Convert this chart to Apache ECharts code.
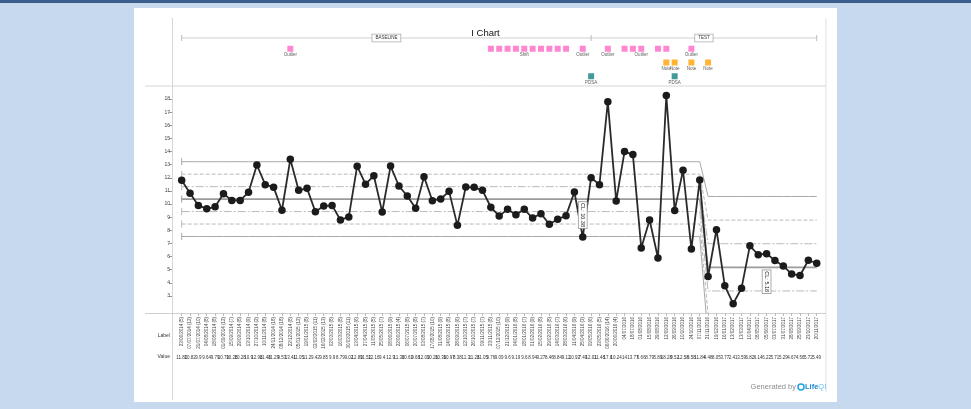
<!DOCTYPE html>
<html><head><meta charset="utf-8">
<script src="https://cdn.jsdelivr.net/npm/echarts@6/dist/echarts.min.js"></script>
<style>html,body{margin:0;padding:0;background:#c7d9ef;}#c{width:971px;height:409px;}</style>
</head><body><div id="c"></div>
<script>
const dateLabels = [
'23/06/2014 (5)','07/07/2014 (12)','21/07/2014 (10)','04/08/2014 (8)','18/08/2014 (8)','01/09/2014 (12)','15/09/2014 (7)','29/09/2014 (8)','13/10/2014 (9)','27/10/2014 (2)',
'10/11/2014 (8)','24/11/2014 (18)','08/12/2014 (18)','22/12/2014 (8)','05/01/2015 (12)','19/01/2015 (8)','02/02/2015 (11)','16/02/2015 (13)','02/03/2015 (8)','16/03/2015 (8)',
'30/03/2015 (11)','13/04/2015 (6)','27/04/2015 (8)','11/05/2015 (5)','25/05/2015 (7)','08/06/2015 (9)','22/06/2015 (4)','06/07/2015 (8)','20/07/2015 (8)','03/08/2015 (7)',
'17/08/2015 (10)','31/08/2015 (9)','14/09/2015 (8)','28/09/2015 (6)','12/10/2015 (7)','26/10/2015 (7)','09/11/2015 (7)','23/11/2015 (8)','07/12/2015 (10)','21/12/2015 (9)',
'04/01/2016 (8)','18/01/2016 (7)','01/02/2016 (9)','15/02/2016 (8)','29/02/2016 (8)','14/03/2016 (7)','28/03/2016 (6)','11/04/2016 (9)','25/04/2016 (3)','09/05/2016 (6)',
'23/05/2016 (5)','06/06/2016 (14)','20/06/2016 (4)','04/07/2016','18/07/2016','01/08/2016','15/08/2016','29/08/2016','12/09/2016','26/09/2016',
'10/10/2016','24/10/2016','07/11/2016','21/11/2016','19/12/2016','16/01/2017','13/02/2017','13/03/2017','10/04/2017','08/05/2017',
'05/06/2017','03/07/2017','31/07/2017','28/08/2017','25/09/2017','23/10/2017','20/11/2017'
];
const values = [
11.82,10.82,9.9,9.64,9.79,10.79,10.28,10.28,10.9,12.98,
11.48,11.29,9.53,13.41,11.05,11.2,9.42,9.85,9.9,8.79,
9.02,12.89,11.52,12.16,9.4,12.9,11.38,10.62,9.68,12.09,
10.26,10.39,10.97,8.38,11.3,11.28,11.05,9.76,9.09,9.6,
9.19,9.6,8.94,9.27,8.46,8.84,9.12,10.92,7.49,12.01,
11.48,17.8,10.24,14.0,13.77,6.66,8.79,5.89,18.28,9.52,
12.58,6.58,11.84,4.48,8.05,3.77,2.41,3.59,6.82,6.14,
6.22,5.71,5.29,4.67,4.56,5.72,5.49
];
const baselineLimits = {ucl:13.23, plus2:12.28, plus1:11.33, cl:10.38, minus1:9.43, minus2:8.48, lcl:7.53};
const testLimits = {ucl:10.58, plus2:8.78, plus1:6.98, cl:5.18, minus1:3.38, minus2:1.58, lcl:-0.22};
const recalcPoint = 64;            // first point (1-based) using the test limits
const phaseNames = ['BASELINE','TEST'];
const phaseStartPoints = [1, 50];  // 1-based
const yTicks = [3,4,5,6,7,8,9,10,11,12,13,14,15,16,17,18];
const outlierPoints = [14,49,52,54,55,56,58,59,62];
const outlierLabelPoints = [14,49,52,56,62];
const shiftPoints = [38,39,40,41,42,43,44,45,46,47];
const shiftLabelPoint = 42;
const notePoints = [59,60,62,64];
const pdsaPoints = [50,60];
const clLabelPoints = {baseline:49, test:71};

const FONT = 'Liberation Sans, Arial, sans-serif';
const chart = echarts.init(document.getElementById('c'));

const limitKeys = ['ucl','plus2','plus1','cl','minus1','minus2','lcl'];
const limitStyles = {
  ucl:{type:'solid', color:'#a9a9a9', width:1},
  plus2:{type:[4,2], color:'#b9b9b9', width:1},
  plus1:{type:[8,2,2,2], color:'#b9b9b9', width:1},
  cl:{type:'solid', color:'#9c9c9c', width:1.6},
  minus1:{type:[8,2,2,2], color:'#b9b9b9', width:1},
  minus2:{type:[4,2], color:'#b9b9b9', width:1},
  lcl:{type:'solid', color:'#a9a9a9', width:1}
};
const limitSeries = limitKeys.map(k => ({
  type:'line', xAxisIndex:0, yAxisIndex:0, silent:true, symbol:'none', showSymbol:true, showAllSymbol:true,
  lineStyle:limitStyles[k], z:1,
  data: values.map((v,i) => {
    const val = (i+1 < recalcPoint) ? baselineLimits[k] : testLimits[k];
    return i === 0 ? {value:val, symbol:'rect', symbolSize:[1,7], itemStyle:{color:limitStyles[k].color}} : {value:val};
  })
}));

const lbl = (txt) => ({show:true, formatter:txt, position:'bottom', distance:1, fontSize:4.5, color:'#333', fontFamily:FONT});
const pinkIdx = Array.from(new Set(outlierPoints.concat(shiftPoints))).sort((a,b)=>a-b);
const pinkData = pinkIdx.map(p => {
  const item = {value:[p-1, 3]};
  if (outlierLabelPoints.includes(p)) item.label = lbl('Outlier');
  if (p === shiftLabelPoint) item.label = lbl('Shift');
  return item;
});
const noteData = notePoints.map(p => ({value:[p-1, 2], label:lbl('Note')}));
const pdsaData = pdsaPoints.map(p => ({value:[p-1, 1], label:lbl('PDSA')}));

const option = {
  animation:false,
  backgroundColor:'#c7d9ef',
  textStyle:{fontFamily:FONT},
  title:{text:'I Chart', left:'center', top:23, textStyle:{fontSize:9.5, fontWeight:'normal', color:'#111', fontFamily:FONT}},
  grid:[
    {left:177.5, top:86, width:643.4, height:227},
    {left:177.5, top:35, width:643.4, height:55}
  ],
  xAxis:[
    {type:'category', gridIndex:0, data:dateLabels, boundaryGap:true,
     axisLine:{show:false}, axisTick:{show:true, alignWithLabel:true, length:3, lineStyle:{color:'#bbb'}, interval:0},
     axisLabel:{rotate:90, interval:0, fontSize:4.5, margin:4, color:'#444', fontFamily:FONT}, splitLine:{show:false}},
    {type:'category', gridIndex:0, data:dateLabels, boundaryGap:true, position:'bottom', offset:40,
     axisLine:{show:false}, axisTick:{show:false},
     axisLabel:{interval:0, fontSize:4.5, margin:2, color:'#333', fontFamily:FONT, formatter:(v,i)=>String(values[i])}},
    {type:'category', gridIndex:1, data:dateLabels, boundaryGap:true, show:false}
  ],
  yAxis:[
    {type:'value', gridIndex:0, min:1.7, max:19, offset:5.5,
     axisLine:{show:false}, splitLine:{show:false},
     axisTick:{show:true, length:3, customValues:yTicks, lineStyle:{color:'#999'}},
     axisLabel:{customValues:yTicks, fontSize:5, margin:2, color:'#444', fontFamily:FONT}},
    {type:'value', gridIndex:1, min:0, max:4, show:false}
  ],
  series: limitSeries.concat([
    {type:'line', xAxisIndex:0, yAxisIndex:0, data:values, symbol:'circle', symbolSize:7.5, showAllSymbol:true,
     itemStyle:{color:'#1b1b1b'}, lineStyle:{color:'#2a2a2a', width:1.8}, z:5},
    {type:'scatter', xAxisIndex:2, yAxisIndex:1, symbol:'rect', symbolSize:6, itemStyle:{color:'#ff69c6'}, data:pinkData},
    {type:'scatter', xAxisIndex:2, yAxisIndex:1, symbol:'rect', symbolSize:6, itemStyle:{color:'#ffa200'}, data:noteData},
    {type:'scatter', xAxisIndex:2, yAxisIndex:1, symbol:'rect', symbolSize:6, itemStyle:{color:'#178080'}, data:pdsaData}
  ]),
  graphic:{elements:[
    {id:'topband', type:'rect', z:-100, shape:{x:0,y:0,width:971,height:3}, style:{fill:'#3b5f8c'}},
    {id:'panel', type:'rect', z:-100, shape:{x:134,y:8,width:703,height:394}, style:{fill:'#ffffff'}},
    {id:'vleft', type:'line', z:-50, shape:{x1:172.5,y1:18,x2:172.5,y2:400}, style:{stroke:'#d6d6d6', lineWidth:1}},
    {id:'vright', type:'line', z:-50, shape:{x1:826,y1:18,x2:826,y2:392}, style:{stroke:'#e2e2e2', lineWidth:1}},
    {id:'htop', type:'line', z:-50, shape:{x1:145,y1:86,x2:826,y2:86}, style:{stroke:'#d6d6d6', lineWidth:1}},
    {id:'hbot', type:'line', z:-50, shape:{x1:145,y1:313.5,x2:826,y2:313.5}, style:{stroke:'#cfcfcf', lineWidth:1}},
    {id:'lblLabel', type:'text', x:170, y:336, style:{text:'Label', align:'right', verticalAlign:'middle', fontSize:5, fill:'#333', fontFamily:FONT}},
    {id:'lblValue', type:'text', x:170, y:357, style:{text:'Value', align:'right', verticalAlign:'middle', fontSize:5, fill:'#333', fontFamily:FONT}},
    {id:'gen', type:'text', x:796, y:387, style:{text:'Generated by', align:'right', verticalAlign:'middle', fontSize:7.5, fill:'#8c8c8c', fontFamily:FONT}},
    {id:'logoC', type:'circle', shape:{cx:801, cy:387, r:3}, style:{fill:'none', stroke:'#1ea0e6', lineWidth:1.5}},
    {id:'logoT', type:'text', x:805, y:387, style:{text:'{a|Life}{b|QI}', align:'left', verticalAlign:'middle', fontFamily:FONT,
      rich:{a:{fontSize:7.5, fontWeight:'bold', fill:'#1b86d0', fontFamily:FONT}, b:{fontSize:7.5, fill:'#5cc0ef', fontFamily:FONT}}}}
  ]}
};
chart.setOption(option);

// annotations positioned through the axes
const px = (i, v) => chart.convertToPixel({xAxisIndex:0, yAxisIndex:0}, [i, v]);
const n = values.length;
const xStart = px(phaseStartPoints[0]-1, 10)[0];
const xSplit = px(phaseStartPoints[1]-1, 10)[0];
const xEnd = px(n-1, 10)[0];
const by = 38;
const els = [
  {id:'br', type:'line', z:-40, shape:{x1:xStart,y1:by,x2:xEnd,y2:by}, style:{stroke:'#cfcfcf', lineWidth:1}},
  {id:'bt0', type:'line', z:-40, shape:{x1:xStart,y1:by-3,x2:xStart,y2:by+3}, style:{stroke:'#bdbdbd', lineWidth:1}},
  {id:'bt1', type:'line', z:-40, shape:{x1:xSplit,y1:by-3,x2:xSplit,y2:by+3}, style:{stroke:'#bdbdbd', lineWidth:1}},
  {id:'bt2', type:'line', z:-40, shape:{x1:xEnd,y1:by-3,x2:xEnd,y2:by+3}, style:{stroke:'#bdbdbd', lineWidth:1}},
  {id:'ph0', type:'text', x:(xStart+xSplit)/2, y:by, style:{text:phaseNames[0], align:'center', verticalAlign:'middle', fontSize:4.5, fill:'#333', fontFamily:FONT, backgroundColor:'#fff', borderColor:'#aaa', borderWidth:0.8, padding:[1,3]}},
  {id:'ph1', type:'text', x:(xSplit+xEnd)/2, y:by, style:{text:phaseNames[1], align:'center', verticalAlign:'middle', fontSize:4.5, fill:'#333', fontFamily:FONT, backgroundColor:'#fff', borderColor:'#aaa', borderWidth:0.8, padding:[1,3]}}
];
const bp = px(clLabelPoints.baseline-1, baselineLimits.cl);
const tp = px(clLabelPoints.test-1, testLimits.cl);
els.push({id:'clb', type:'text', z:10, x:bp[0], y:bp[1]+3, rotation:-Math.PI/2, style:{text:'CL: '+baselineLimits.cl.toFixed(2), align:'left', verticalAlign:'middle', fontSize:5.5, fill:'#222', fontFamily:FONT, backgroundColor:'#fff', borderColor:'#999', borderWidth:0.8, padding:[1,1]}});
els.push({id:'clt', type:'text', z:10, x:tp[0], y:tp[1]+3, rotation:-Math.PI/2, style:{text:'CL: '+testLimits.cl.toFixed(2), align:'left', verticalAlign:'middle', fontSize:5.5, fill:'#222', fontFamily:FONT, backgroundColor:'#fff', borderColor:'#999', borderWidth:0.8, padding:[1,1]}});
chart.setOption({graphic:{elements:els}});
</script></body></html>
